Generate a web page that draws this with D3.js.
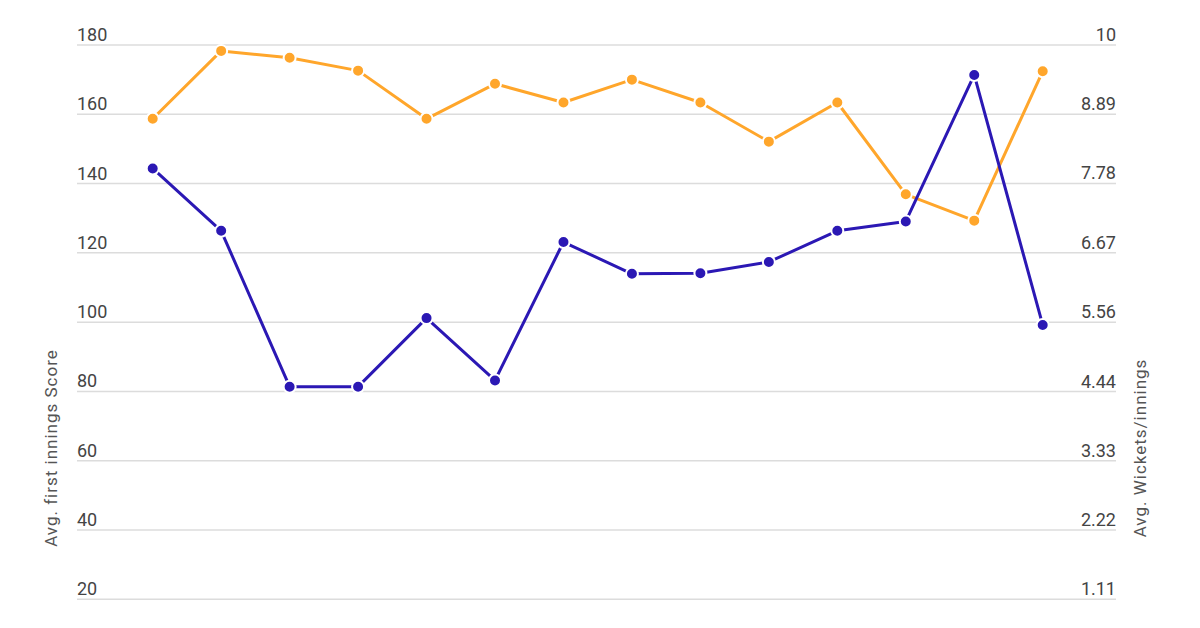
<!DOCTYPE html>
<html>
<head>
<meta charset="utf-8">
<script src="https://cdn.jsdelivr.net/npm/d3@7"></script>
<style>
  html, body { margin: 0; padding: 0; background: #fff; }
  svg { display: block; font-family: Roboto, "Noto Sans", sans-serif; }
</style>
</head>
<body>
<svg id="chart" width="1200" height="628"></svg>
<script>
// ---- Data ----
const categories = ["2008","2009","2010","2011","2012","2013","2014","2015","2016","2017","2018","2019","2020","2021"];
const avgFirstInningsScore = [158.7, 178.3, 176.3, 172.6, 158.7, 168.8, 163.4, 170.0, 163.4, 152.1, 163.4, 136.9, 129.3, 172.4];
const avgWicketsPerInnings = [8.02, 7.02, 4.52, 4.52, 5.62, 4.62, 6.84, 6.33, 6.34, 6.52, 7.02, 7.17, 9.52, 5.51];
const leftTicks = [20, 40, 60, 80, 100, 120, 140, 160, 180];
const rightTicks = [1.11, 2.22, 3.33, 4.44, 5.56, 6.67, 7.78, 8.89, 10];
const leftTitle = "Avg. first innings Score";
const rightTitle = "Avg. Wickets/innings";

// ---- Layout ----
const plotLeft = 77, plotRight = 1116, plotTop = 45, plotBottom = 599.3;
const orange = "#FFA62B", blue = "#2B18B4";

const svg = d3.select("#chart");

const x = d3.scalePoint().domain(categories).range([152.7, 1042.7]);
const yL = d3.scaleLinear().domain([20, 180]).range([plotBottom, plotTop]);
const yR = d3.scaleLinear().domain([1.11, 10]).range([plotBottom, plotTop]);

// gridlines
svg.append("g").selectAll("line").data(leftTicks).join("line")
  .attr("x1", plotLeft).attr("x2", plotRight)
  .attr("y1", d => yL(d)).attr("y2", d => yL(d))
  .attr("stroke", "#dcdcdc").attr("stroke-width", 1.5);

// left tick labels
svg.append("g").selectAll("text").data(leftTicks).join("text")
  .attr("x", plotLeft).attr("y", d => yL(d) - 4)
  .attr("font-size", 18).attr("fill", "#444")
  .text(d => d);

// right tick labels
svg.append("g").selectAll("text").data(rightTicks).join("text")
  .attr("x", plotRight).attr("y", d => yR(d) - 4)
  .attr("text-anchor", "end")
  .attr("font-size", 18).attr("fill", "#444")
  .text(d => d);

// axis titles
svg.append("text")
  .attr("transform", "translate(57,448) rotate(-90)")
  .attr("text-anchor", "middle").attr("font-size", 17).attr("letter-spacing", "1px")
  .attr("fill", "#555")
  .text(leftTitle);
svg.append("text")
  .attr("transform", "translate(1146,448) rotate(-90)")
  .attr("text-anchor", "middle").attr("font-size", 17).attr("letter-spacing", "1px")
  .attr("fill", "#555")
  .text(rightTitle);

function drawSeries(values, yScale, color) {
  const pts = values.map((v, i) => [x(categories[i]), yScale(v)]);
  const g = svg.append("g");
  g.append("path")
    .attr("d", d3.line()(pts))
    .attr("fill", "none").attr("stroke", color)
    .attr("stroke-width", 3).attr("stroke-linejoin", "round");
  g.selectAll("circle").data(pts).join("circle")
    .attr("cx", d => d[0]).attr("cy", d => d[1]).attr("r", 6)
    .attr("fill", color).attr("stroke", "#fff").attr("stroke-width", 2);
}

drawSeries(avgFirstInningsScore, yL, orange);
drawSeries(avgWicketsPerInnings, yR, blue);
</script>
</body>
</html>
